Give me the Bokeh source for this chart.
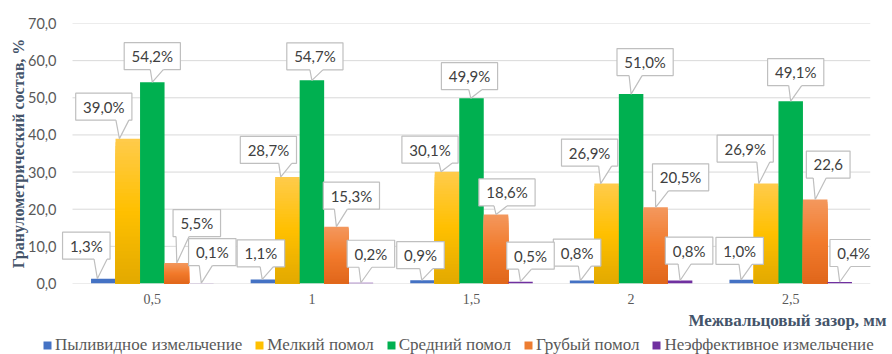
from bokeh.plotting import figure
from bokeh.layouts import column
from bokeh.models import Range1d, FixedTicker, Legend, LegendItem, Title, ColumnDataSource
from bokeh.core.properties import value
from bokeh.embed import file_html
from bokeh.resources import INLINE

# --- data -------------------------------------------------------------
gaps = ["0,5", "1", "1,5", "2", "2,5"]  # inter-roll gap, mm
series_names = [
    "Пыливидное измельчение",
    "Мелкий помол",
    "Средний помол",
    "Грубый помол",
    "Неэффективное измельчение",
]
dust = [1.3, 1.1, 0.9, 0.8, 1.0]
fine = [39.0, 28.7, 30.1, 26.9, 26.9]
medium = [54.2, 54.7, 49.9, 51.0, 49.1]
coarse = [5.5, 15.3, 18.6, 20.5, 22.6]
ineffective = [0.1, 0.2, 0.5, 0.8, 0.4]
label_suffix = [["%"] * 5, ["%"] * 5, ["%"] * 5, ["%", "%", "%", "%", ""], ["%"] * 5]
y_ticks = [0, 10, 20, 30, 40, 50, 60, 70]

series = [dust, fine, medium, coarse, ineffective]

# --- styling ----------------------------------------------------------
# each fill is (top, middle, bottom) colour of a vertical gradient
fills = [
    ("#4472C4", "#4472C4", "#4472C4"),
    ("#FFCB4C", "#FFC000", "#E2A900"),
    ("#00B050", "#00B050", "#00B050"),
    ("#F3985E", "#F27B2C", "#E0661B"),
    ("#7030A0", "#7030A0", "#7030A0"),
]
legend_colors = ["#4472C4", "#FFC000", "#00B050", "#ED7D31", "#7030A0"]

# callout box centre relative to the top of its bar, in pixels
callout_dx = [
    [-17, -2, -2, -5, -2],
    [-24, -19, -17, -17, -21],
    [0, 3, -2, 14, 5],
    [20, 15, 11, 25, 13],
    [11, 10, 10, 9, 14],
]
callout_dy = [
    [-33, -26, -25, -28, -29],
    [-32, -27, -22, -31, -35],
    [-26, -24, -22, -32, -29],
    [-40, -31, -22, -30, -35],
    [-31, -29, -26, -30, -29],
]

WIDTH = 892
CHART_H, LEGEND_H = 336, 18
PLOT_W, FRAME_H = 798, 260      # width of the category area, frame height
LEFT_PAD = 14                   # frame room left of the first category
B_LEFT, B_RIGHT, B_TOP = 72 - LEFT_PAD, 22, 23
B_BOTTOM = CHART_H - B_TOP - FRAME_H
Y_MAX = 70
N_GROUPS = len(gaps)
PX_X = PLOT_W / N_GROUPS  # pixels per x unit
PX_Y = FRAME_H / Y_MAX    # pixels per y unit
BAR_W = 24.5 / PX_X
X0 = -0.5
X1 = N_GROUPS - 0.5

GRID = "#D9D9D9"
TEXT = "#404040"
AXIS_TEXT = "#595959"
TITLE = "#44546A"


def hex_to_rgb(h):
    h = h.lstrip("#")
    return tuple(int(h[i:i + 2], 16) for i in (0, 2, 4))


def gradient(stops, t):
    a, b = (stops[0], stops[1]) if t < 0.5 else (stops[1], stops[2])
    u = t * 2 if t < 0.5 else (t - 0.5) * 2
    ca, cb = hex_to_rgb(a), hex_to_rgb(b)
    c = [round(ca[i] + (cb[i] - ca[i]) * u) for i in range(3)]
    return "#%02X%02X%02X" % tuple(c)


def text_width(s):
    w = 0.0
    for ch in s:
        if ch.isdigit():
            w += 8.7
        elif ch == ",":
            w += 3.6
        elif ch == "%":
            w += 12.5
        else:
            w += 8.0
    return w


p = figure(
    width=WIDTH,
    height=CHART_H,
    x_range=Range1d(X0 - LEFT_PAD / PX_X, X1),
    y_range=Range1d(0, Y_MAX),
    output_backend="svg",
    toolbar_location=None,
    min_border_left=B_LEFT,
    min_border_right=B_RIGHT,
    min_border_top=B_TOP,
    min_border_bottom=B_BOTTOM,
    background_fill_color="white",
    border_fill_color="white",
    outline_line_color=None,
)
p.frame_align = False

# --- gridlines and baseline across the category area ------------------
p.xgrid.visible = False
p.ygrid.visible = False
p.segment(x0=[X0] * len(y_ticks), x1=[X1] * len(y_ticks), y0=y_ticks, y1=y_ticks,
          line_color=GRID, line_width=1)

# --- bars (stacked nested rectangles give a smooth vertical gradient) --
N_BANDS = 40
for k, vals in enumerate(series):
    xs = [g + (k - 2) * BAR_W for g in range(N_GROUPS)]
    stops = fills[k]
    if stops[0] == stops[2]:
        p.vbar(x=xs, top=vals, width=BAR_W, fill_color=stops[0], line_color=None)
        continue
    left, right, top, bottom, color = [], [], [], [], []
    for j in range(N_BANDS):
        t = j / N_BANDS
        for x, v in zip(xs, vals):
            left.append(x - BAR_W / 2)
            right.append(x + BAR_W / 2)
            top.append(v * (1 - t))
            bottom.append(0)
            color.append(gradient(stops, (j + 0.5) / N_BANDS))
    p.quad(left=left, right=right, top=top, bottom=bottom,
           fill_color=color, line_color=None)

# --- data callouts ----------------------------------------------------
BOX_H = 27
box = dict(left=[], right=[], top=[], bottom=[])
tail_xs, tail_ys, edge_xs, edge_ys = [], [], [], []
lbl = dict(x=[], y=[], text=[])
for k, vals in enumerate(series):
    for g, v in enumerate(vals):
        bx = g + (k - 2) * BAR_W
        txt = f"{v:.1f}".replace(".", ",") + label_suffix[k][g]
        dx, dy = callout_dx[k][g], callout_dy[k][g]
        cx = bx + dx / PX_X
        cy = v - dy / PX_Y
        half_w = (text_width(txt) + 14) / 2 / PX_X
        half_h = BOX_H / 2 / PX_Y
        l, r, t, b = cx - half_w, cx + half_w, cy + half_h, cy - half_h
        box["left"].append(l)
        box["right"].append(r)
        box["top"].append(t)
        box["bottom"].append(b)
        lbl["x"].append(cx)
        lbl["y"].append(cy)
        lbl["text"].append(txt)
        tip_x = bx + 0.35 * min(dx, 0) / PX_X
        b0 = tip_x - 2 / PX_X
        b1 = tip_x + 11 / PX_X
        lo, hi = l + 3 / PX_X, r - 3 / PX_X
        if b0 < lo:
            b1 += lo - b0
            b0 = lo
        if b1 > hi:
            b0 -= b1 - hi
            b1 = hi
        lift = 1.5 / PX_Y
        tail_xs.append([b0, b0, tip_x, b1, b1])
        tail_ys.append([b + lift, b, v, b, b + lift])
        edge_xs.append([b0, tip_x, b1])
        edge_ys.append([b, v, b])

p.quad(source=ColumnDataSource(box), left="left", right="right", top="top",
       bottom="bottom", fill_color="white", line_color="#BFBFBF", line_width=1.2)
p.patches(xs=tail_xs, ys=tail_ys, fill_color="white", line_color=None)
p.multi_line(xs=edge_xs, ys=edge_ys, line_color="#BFBFBF", line_width=1.2)
p.text(source=ColumnDataSource(lbl), x="x", y="y", text="text",
       text_align="center", text_baseline="middle",
       text_font=value("Lato"), text_font_size="15px", text_color=TEXT)

# --- axes -------------------------------------------------------------
p.yaxis.ticker = FixedTicker(ticks=y_ticks)
p.yaxis.major_label_overrides = {t: f"{t:.1f}".replace(".", ",") for t in y_ticks}
p.yaxis.axis_line_color = None
p.yaxis.major_tick_line_color = None
p.yaxis.minor_tick_line_color = None
p.yaxis.major_tick_out = 0
p.yaxis.minor_tick_out = 0
p.yaxis.major_label_standoff = 2
p.yaxis.major_label_text_font = "Lato"
p.yaxis.major_label_text_font_size = "14.5px"
p.yaxis.major_label_text_color = AXIS_TEXT
p.yaxis.axis_label = "Гранулометрический состав, %"
p.yaxis.axis_label_text_font = "Liberation Serif"
p.yaxis.axis_label_text_font_style = "bold"
p.yaxis.axis_label_text_font_size = "16px"
p.yaxis.axis_label_text_color = TITLE
p.yaxis.axis_label_standoff = -2

p.xaxis.ticker = FixedTicker(ticks=list(range(N_GROUPS)))
p.xaxis.major_label_overrides = {i: s for i, s in enumerate(gaps)}
p.xaxis.axis_line_color = None
p.xaxis.major_tick_line_color = None
p.xaxis.minor_tick_line_color = None
p.xaxis.major_tick_out = 0
p.xaxis.minor_tick_out = 0
p.xaxis.major_label_standoff = 10
p.xaxis.major_label_text_font = "Liberation Serif"
p.xaxis.major_label_text_font_size = "14px"
p.xaxis.major_label_text_color = AXIS_TEXT

x_title = Title(text="Межвальцовый зазор, мм", align="right",
                text_font="Liberation Serif", text_font_style="bold",
                text_font_size="17px", text_color=TITLE, standoff=5, offset=-16)
p.add_layout(x_title, "below")

# --- legend strip under the chart --------------------------------------
q = figure(
    width=WIDTH,
    height=LEGEND_H,
    x_range=Range1d(0, 1),
    y_range=Range1d(0, 1),
    x_axis_location=None,
    y_axis_location=None,
    output_backend="svg",
    toolbar_location=None,
    min_border=0,
    outline_line_color=None,
    background_fill_color="white",
    border_fill_color="white",
)
q.frame_align = False
q.grid.visible = False
items = []
for name, c in zip(series_names, legend_colors):
    # swatch renderer kept outside the visible range; only its legend entry shows
    r = q.quad(left=[-3], right=[-2], top=[-2], bottom=[-3], fill_color=c, line_color=None)
    items.append(LegendItem(label=name, renderers=[r]))
legend = Legend(items=items, orientation="horizontal", location=(42, -1),
                glyph_width=10, glyph_height=10, label_standoff=3, spacing=12,
                padding=0, margin=0, border_line_color=None,
                background_fill_alpha=0,
                label_text_font="Liberation Serif", label_text_font_size="17px",
                label_text_color=AXIS_TEXT, label_height=17)
q.add_layout(legend, "center")

page = column(p, q, spacing=0)
open("out.html", "w").write(file_html(page, INLINE))
